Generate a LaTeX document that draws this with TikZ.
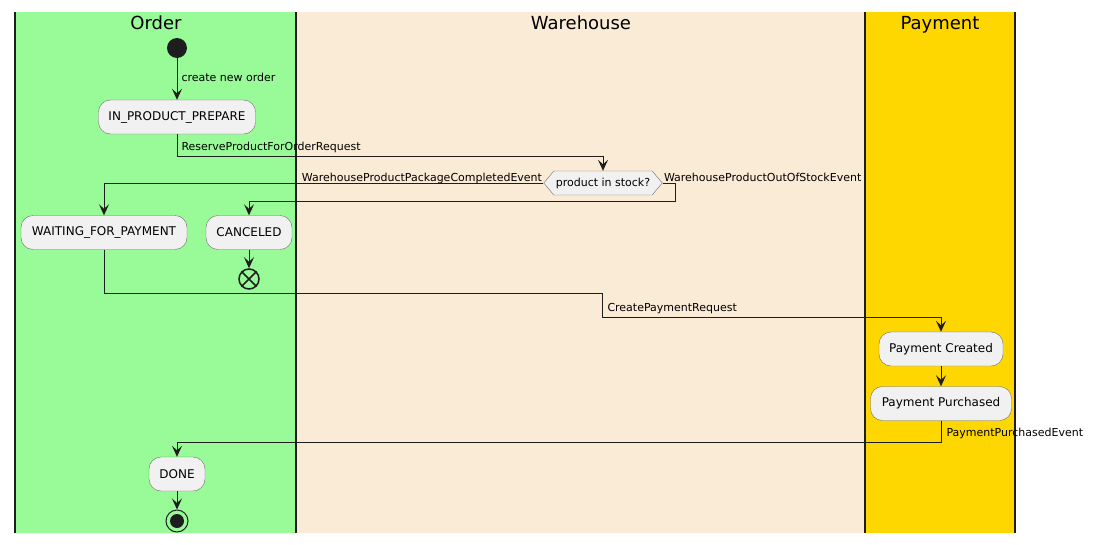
\documentclass[tikz,border=0pt]{standalone}
\usepackage{fontspec}
\setmainfont{DejaVu Sans}
\usetikzlibrary{arrows.meta,shapes.symbols}

\definecolor{orderlane}{HTML}{98FB98}
\definecolor{storelane}{HTML}{FAEBD7}
\definecolor{paylane}{HTML}{FFD700}
\definecolor{boxfill}{HTML}{F1F1F1}
\definecolor{boxline}{HTML}{6E6E6E}
\definecolor{ink}{HTML}{1E1E1E}

\tikzset{
  statebox/.style={draw=boxline, fill=boxfill, rounded corners=12pt, minimum height=34pt, inner xsep=10pt, font=\fontsize{12}{14}\selectfont},
  decision/.style={draw=boxline, fill=boxfill, shape=signal, signal to=west and east, signal pointer angle=100, minimum width=118pt, minimum height=24pt, inner xsep=2pt, inner ysep=0pt, font=\fontsize{11}{13}\selectfont},
  lbl/.style={font=\fontsize{11}{13}\selectfont, inner sep=0pt},
  flow/.style={draw=ink, line width=1pt, -{Stealth[length=11pt,width=10pt,inset=4.5pt]}},
  lane/.style={draw=ink, line width=1.5pt},
  lanetitle/.style={font=\fontsize{18}{21}\selectfont, anchor=base}
}

\begin{document}
\begin{tikzpicture}[x=1pt,y=-1pt]
\useasboundingbox (0,0) rectangle (1094,544);

% lanes
\fill[orderlane] (15,12) rectangle (296,533);
\fill[storelane] (296,12) rectangle (865,533);
\fill[paylane] (865,12) rectangle (1015,533);
\draw[lane] (15,12) -- (15,533);
\draw[lane] (296,12) -- (296,533);
\draw[lane] (865,12) -- (865,533);
\draw[lane] (1015,12) -- (1015,533);
% titles
\node[lanetitle] (ordertitle) at (156,29) {Order};
\node[lanetitle] (storetitle) at (581,29) {Warehouse};
\node[lanetitle] (paytitle) at (940,29) {Payment};

% states
\node[circle, fill=ink, minimum size=20pt, inner sep=0pt] (start) at (177,48) {};
\node[statebox, minimum width=157pt] (prep) at (177,117) {IN\_PRODUCT\_PREPARE};
\node[decision] (chk) at (603,183) {product in stock?};
\node[statebox, minimum width=166pt] (wait) at (104,232.5) {WAITING\_FOR\_PAYMENT};
\node[statebox, minimum width=86pt] (cancel) at (249,232.5) {CANCELED};
\node[circle, draw=ink, line width=1.5pt, minimum size=20pt, inner sep=0pt] (endx) at (249,279) {};
\node[statebox, minimum width=124pt] (created) at (941,349) {Payment Created};
\node[statebox, minimum width=141pt] (purchased) at (941,403.5) {Payment Purchased};
\node[statebox, minimum width=56pt] (done) at (177,474) {DONE};
\node[circle, draw=ink, line width=1pt, minimum size=22pt, inner sep=0pt] (stop) at (177,521) {};
\coordinate (payjog) at (602,293);

% end marks
\draw[ink, line width=1.5pt] (endx.45) -- (endx.225) (endx.135) -- (endx.315);
\fill[ink] (stop.center) circle (7pt);

% flows
\draw[flow] (start) -- node[lbl, anchor=west, xshift=4pt, yshift=2pt] {create new order} (prep);
\draw[flow] (prep.south) -- ++(0,22) node[lbl, anchor=base west, xshift=4pt, yshift=6pt] {ReserveProductForOrderRequest} -| (chk.north);
\draw[flow] (chk.west) node[lbl, anchor=base east, xshift=-1pt, yshift=2pt] {WarehouseProductPackageCompletedEvent} -| (wait.north);
\draw[flow] (chk.east) node[lbl, anchor=base west, xshift=1pt, yshift=2pt] {WarehouseProductOutOfStockEvent} -- ++(13,0) -- ++(0,18) -| (cancel.north);
\draw[flow] (cancel.south) -- (endx);
\draw[flow] (wait.south) |- (payjog) -- ++(0,24) node[lbl, anchor=base west, xshift=5pt, yshift=6pt] {CreatePaymentRequest} -| (created.north);
\draw[flow] (created) -- (purchased);
\draw[flow] (purchased.south) -- ++(0,22) node[lbl, anchor=base west, xshift=5pt, yshift=6pt] {PaymentPurchasedEvent} -| (done.north);
\draw[flow] (done) -- (stop);

\end{tikzpicture}
\end{document}
